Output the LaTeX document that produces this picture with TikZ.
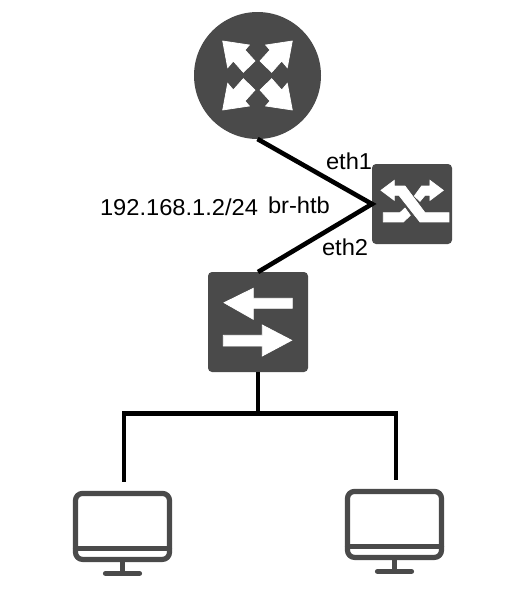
\documentclass[tikz,border=0pt]{standalone}
\usepackage{fontspec}
\setmainfont{Liberation Sans}
\definecolor{icon}{HTML}{4A4A4A}
\tikzset{
  iconbox/.style={draw=none,fill=icon,rounded corners=4pt,inner sep=0pt,outer sep=0pt},
  iconround/.style={circle,draw=none,fill=icon,inner sep=0pt,outer sep=0pt,minimum size=127pt},
  wire/.style={draw=black,line width=4.6pt,miter limit=10},
  lbl/.style={anchor=base west,inner sep=0pt,outer sep=0pt,font=\fontsize{23}{27}\selectfont,xscale=1.03,text=black},
  ghost/.style={draw=none,inner sep=0pt,outer sep=0pt},
  glyph/.style={fill=white,draw=white,line width=0.7pt,line join=miter},
  mon/.style={draw=icon,line width=5.2pt,line cap=round,line join=round},
  pics/monitor/.style={code={
    \draw[mon,rounded corners=7pt] (-47,-33) rectangle (47,33);
    \draw[mon] (-47,22) -- (47,22);
    \draw[mon] (0,35) -- (0,46);
    \draw[mon] (-17,47) -- (17,47);
  }},
  pics/quadarrow/.style={code={
    \path[glyph] (-34.8,-34.5) -- (-8.2,-30.5) -- (-12.5,-25.5) -- (-2.5,-14.5) -- (-14.2,-3.2) -- (-24.2,-14.5) -- (-29.8,-7.8) -- cycle;
  }}
}
\begin{document}
\begin{tikzpicture}[x=1pt,y=-1pt]
\useasboundingbox (0,0) rectangle (530,598);
\node[iconround] (router) at (257.5,75.5) {};
\node[iconbox,minimum width=80pt,minimum height=80pt] (bridge) at (412,204) {};
\node[iconbox,minimum width=100pt,minimum height=100pt] (switch) at (258,322) {};
\node[ghost,minimum width=98pt,minimum height=84pt] (pcA) at (122.5,526.4) {};
\node[ghost,minimum width=98pt,minimum height=84pt] (pcB) at (394.5,524.4) {};
% router arrows
\pic at (router.center) {quadarrow};
\pic[xscale=-1] at (router.center) {quadarrow};
\pic[yscale=-1] at (router.center) {quadarrow};
\pic[xscale=-1,yscale=-1] at (router.center) {quadarrow};
% bridge icon
\begin{scope}[shift={(375,172)},x=0.3333pt,y=-0.3333pt]
  \path[glyph] (18,55) -- (58,25) -- (58,42) -- (90,42) -- (150,122) -- (222,122) -- (222,150) -- (135,150) -- (72,70) -- (58,70) -- (58,85) -- cycle;
  \path[glyph] (25,122) -- (75,122) -- (90,108) -- (106,130) -- (85,150) -- (25,150) -- cycle;
  \path[glyph] (205,55) -- (165,25) -- (165,42) -- (140,42) -- (118,72) -- (135,88) -- (150,70) -- (165,70) -- (165,85) -- cycle;
\end{scope}
% switch icon
\path[glyph] (224,302.7) -- (253.3,288.3) -- (253.3,298.3) -- (292.3,298.3) -- (292.3,308.3) -- (253.3,308.3) -- (253.3,319.3) -- cycle;
\path[glyph] (291.7,340.3) -- (262.3,325) -- (262.3,335.3) -- (223.3,335.3) -- (223.3,346) -- (262.3,346) -- (262.3,356) -- cycle;
% monitors
\pic at (pcA.center) {monitor};
\pic at (pcB.center) {monitor};
% connectors
\coordinate (busA) at (pcA.north |- 0,413.7);
\coordinate (dropA) at (124,481.7);
\coordinate (dropB) at (396,480);
\draw[wire] (router.south) -- (bridge.west) -- (switch.north);
\draw[wire] (switch.south) -- (switch.south |- busA);
\draw[wire] (dropA) -- (dropA |- busA) -- (dropB |- busA) -- (dropB);
% labels
\node[lbl] (eth1) at (326,169.3) {eth1};
\node[lbl] (eth2) at (322,255.7) {eth2};
\node[lbl] (ip) at (100,215) {192.168.1.2/24};
\node[lbl] (br) at (268,213.3) {br-htb};
\end{tikzpicture}
\end{document}
